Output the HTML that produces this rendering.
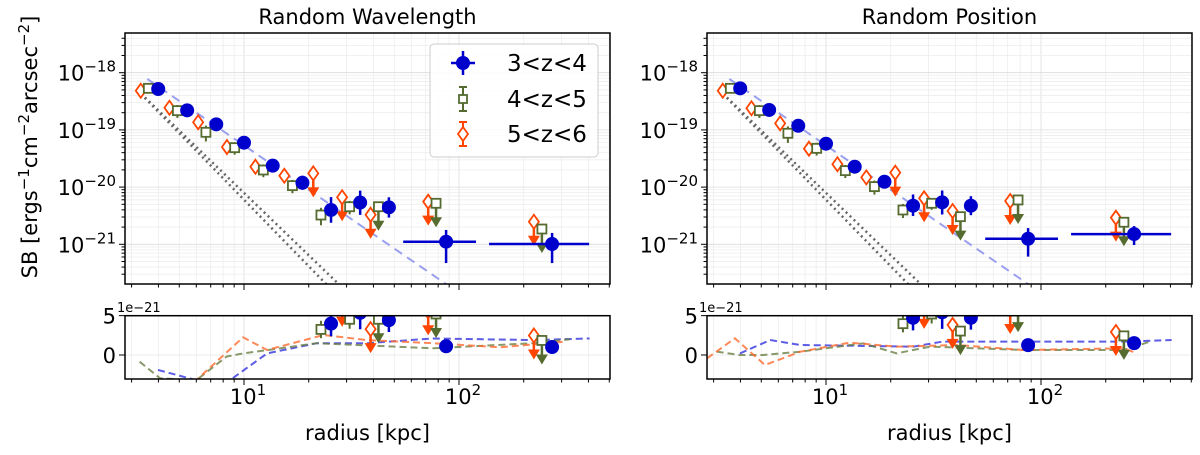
<!DOCTYPE html>
<html><head><meta charset="utf-8"><style>
body{margin:0;background:#fff;width:1200px;height:450px;overflow:hidden}
svg{font-family:"DejaVu Sans","Liberation Sans",sans-serif}
</style></head><body>
<svg id="fig" width="1200" height="450" xmlns="http://www.w3.org/2000/svg">
<defs>
<clipPath id="cm0"><rect x="125" y="33" width="485" height="251"/></clipPath>
<clipPath id="cb0"><rect x="125" y="315.7" width="485" height="63.3"/></clipPath>
<clipPath id="cm1"><rect x="707" y="33" width="485" height="251"/></clipPath>
<clipPath id="cb1"><rect x="707" y="315.7" width="485" height="63.3"/></clipPath>
</defs>
<text transform="translate(37,147) rotate(-90)" text-anchor="middle" font-size="21">SB [ergs<tspan dy="-8" font-size="15">−1</tspan><tspan dy="8">cm</tspan><tspan dy="-8" font-size="15">−2</tspan><tspan dy="8">arcsec</tspan><tspan dy="-8" font-size="15">−2</tspan><tspan dy="8">]</tspan></text>
</svg>
<script>
// ---- data (SB in units of 1e-21 erg/s/cm2/arcsec2) ----
const blueR=[3.99,5.44,7.43,10,13.6,18.7,25.4,34.7,47.2,87.1,271];
const blueXLo=[0,0,0,0,0,0,0,0,0,55,138];
const blueXHi=[0,0,0,0,0,0,0,0,0,120,403];
const blueWave=[519,220,125,59.7,23.7,11.9,3.98,5.37,4.43,1.11,1.01];
const bluePos=[533,223,118,57.4,22.7,12.4,4.73,5.42,4.73,1.25,1.51];
const blueErrLo=[15,8,5,3,1.2,2.9,1.6,2.1,1.5,0.64,0.54];
const blueErrHi=[15,8,5,3,1.2,3.9,2.7,3.3,2.2,0.67,0.57];
const greenR=[3.59,4.90,6.65,9.05,12.3,16.8,22.8,31.0];
const greenWave=[533,217,90.8,48.9,19.9,10.6,3.25,4.54];
const greenPos=[533,217,87.3,47.6,19.4,10.2,3.98,5.21];
const greenErr=[60,55,28,12,5,2.8,1.1,1.2];
const greenUlR=[42.2,78.2,243];
const greenUlWave=[4.54,5.21,1.85];
const greenUlPos=[3.04,5.96,2.43];
const redR=[3.31,4.50,6.12,8.33,11.3,15.4];
const redWave=[484,244,136,50.2,22.7,15.8];
const redPos=[484,239,130,46.9,25.1,14.8];
const redErr=[40,40,25,8,4,3.5];
const redUlR=[21.0,28.6,38.8,71.9,223];
const redUlWave=[17.4,6.64,3.29,5.56,2.48];
const redUlPos=[17.9,6.37,3.82,5.71,2.92];
// fit / model lines: [amplitude at r0, r0, slope]
const fitLine=[776,3.55,-2.58];
const modelLineA=[501,3.18,-3.86];
const modelLineB=[501,3.18,-3.62];
// residual (bottom) panel noise curves
const resWaveBlueR=[3.98,6.0,8.6,12.8,21.8,37.3,75.7,220,405];
const resWaveBlueV=[-1.9,-3.2,-3.2,0.2,1.5,1.5,2.1,1.9,2.1];
const resWaveGreenR=[3.27,4.07,6.0,8.3,9.9,21.8,75.7,220,328];
const resWaveGreenV=[-0.85,-2.96,-3.2,-0.2,0.2,1.5,0.85,1.5,2.0];
const resWaveOrangeR=[4.2,6.0,9.9,12.8,23.4,37.3,75.7,155,314];
const resWaveOrangeV=[-5,-3.2,2.25,0.64,2.54,1.9,1.5,0.98,1.7];
const resPosBlueR=[3.98,5.5,7.6,25.5,34.8,82.7,242,405];
const resPosBlueV=[0.2,1.9,1.27,1.06,1.7,1.7,1.7,1.9];
const resPosGreenR=[3.10,3.98,5.11,7.6,14.9,21.3,30.5,82.7,242,322];
const resPosGreenV=[0.42,0,0,0.42,1.48,0.21,1.06,0.64,0.64,1.7];
const resPosOrangeR=[2.80,3.77,5.2,7.6,12.9,21.3,40.5,82.7,242,280];
const resPosOrangeV=[-0.42,2.12,-1.27,0.42,1.57,1.06,1.27,0.64,0.85,0.21];
const xTicks=[10,100];
const xTickLabels=["1","2"];
const yTicksMain=[1000,100,10,1];
const yTickMainLabels=["−18","−19","−20","−21"];
const yTicksRes=[5,0];

const NS="http://www.w3.org/2000/svg";
const svg=document.getElementById('fig');
const BLUE="#0000cd",GREEN="#556b2f",RED="#ff4500";
function mk(tag,attrs,parent){const e=document.createElementNS(NS,tag);for(const k in attrs)e.setAttribute(k,attrs[k]);(parent||svg).appendChild(e);return e;}
function panel(idx,ox,title,bV,gV,gUl,rV,rUl,res){
  const X=r=>ox+119+(Math.log10(r)-1)*215;
  const YM=v=>72.7+(3-Math.log10(v))*57.2;
  const YB=v=>355-v*7.87;
  const L=ox,R=ox+485,T=33,B=284,BT=315.7,BB=379;
  const g=mk('g',{});
  
  
  const t=mk('text',{x:(L+R)/2,y:24,'text-anchor':'middle','font-size':21},g);t.textContent=title;
  
  const grid=mk('g',{stroke:'#e8e8e8','stroke-width':0.8},g);
  
  for(let d=0;d<=2;d++)for(let m=1;m<10;m++){const r=m*Math.pow(10,d);const x=X(r);if(x<L||x>R)continue;
    mk('line',{x1:x,x2:x,y1:T,y2:B,stroke:m==1?'#dcdcdc':'#ededed'},grid);
    mk('line',{x1:x,x2:x,y1:BT,y2:BB,stroke:m==1?'#dcdcdc':'#ededed'},grid);
    mk('line',{x1:x,x2:x,y1:B,y2:B+(m==1?6:3.5),stroke:'#000'},g);
    mk('line',{x1:x,x2:x,y1:BB,y2:BB+(m==1?6:3.5),stroke:'#000'},g);}
  for(let d=-2;d<=4;d++)for(let m=1;m<10;m++){const v=m*Math.pow(10,d);const y=YM(v);if(y<T||y>B)continue;
    mk('line',{x1:L,x2:R,y1:y,y2:y,stroke:m==1?'#dcdcdc':'#ededed'},grid);
    mk('line',{x1:L,x2:L-(m==1?6:3.5),y1:y,y2:y,stroke:'#000'},g);}
  yTicksRes.forEach(v=>{mk('line',{x1:L,x2:R,y1:YB(v),y2:YB(v),stroke:'#e4e4e4'},grid);mk('line',{x1:L,x2:L-6,y1:YB(v),y2:YB(v),stroke:'#000'},g);
    const tl=mk('text',{x:L-9,y:YB(v)+8,'text-anchor':'end','font-size':21},g);tl.textContent=v;
    });
  yTicksMain.forEach((v,i)=>{const tl=mk('text',{x:L-9,y:YM(v)+8,'text-anchor':'end','font-size':21},g);
    tl.innerHTML='10<tspan dy="-9" font-size="15">'+yTickMainLabels[i]+'</tspan>';
    });
  xTicks.forEach((v,i)=>{const tl=mk('text',{x:X(v)+4,y:404,'text-anchor':'middle','font-size':21},g);
    tl.innerHTML='10<tspan dy="-9" font-size="15">'+xTickLabels[i]+'</tspan>';
    });
  const xl=mk('text',{x:(L+R)/2,y:440,'text-anchor':'middle','font-size':21},g);xl.textContent='radius [kpc]';
  
  const oe=mk('text',{x:L-8,y:312,'font-size':13},g);oe.textContent='1e−21';
  
  function series(Y,clip,bottom){
    const sg=mk('g',{'clip-path':'url(#'+clip+')'},g);
    
    if(!bottom){
      [[fitLine,'#9aa0ee','9,6',2],[modelLineA,'#666','2,3.5',2.5],[modelLineB,'#666','2,3.5',2.5]].forEach(([p,c,da,w],k)=>{
        const f=r=>p[0]*Math.pow(r/p[1],p[2]);
        const r0=k==0?3.55:3.18, re=k==0?90:30;
        const ln=mk('line',{x1:X(r0),y1:Y(f(r0)),x2:X(re),y2:Y(f(re)),stroke:c,'stroke-width':w,'stroke-dasharray':da},sg);
        });
    } else {
      res.forEach(([rs,vs,c])=>{const pl=mk('polyline',{points:rs.map((r,i)=>X(r)+','+Y(vs[i])).join(' '),fill:'none',stroke:c,'stroke-width':2,'stroke-dasharray':'7,4',opacity:0.8},sg);
        });
    }
    const ul=(r,v,c,sh)=>{const x=X(r),y=Y(v);
      mk('line',{x1:x,x2:x,y1:y,y2:y+20,stroke:c,'stroke-width':2.5},sg);
      mk('path',{d:`M${x-6},${y+14}L${x+6},${y+14}L${x},${y+24}Z`,fill:c},sg);
      const m=sh=='s'?mk('rect',{x:x-4.5,y:y-4.5,width:9,height:9,fill:'#fff',stroke:c,'stroke-width':1.8},sg):mk('path',{d:`M${x},${y-7}L${x+5},${y}L${x},${y+7}L${x-5},${y}Z`,fill:'#fff',stroke:c,'stroke-width':1.8},sg);
      };
    redR.forEach((r,i)=>{const x=X(r);const v=rV[i];mk('line',{x1:x,x2:x,y1:Y(v+redErr[i]),y2:Y(Math.max(v-redErr[i],0.01)),stroke:RED,'stroke-width':2},sg);
      const m=mk('path',{d:`M${x},${Y(v)-7}L${x+5},${Y(v)}L${x},${Y(v)+7}L${x-5},${Y(v)}Z`,fill:'#fff',stroke:RED,'stroke-width':1.8},sg);
      });
    redUlR.forEach((r,i)=>ul(r,rUl[i],RED,'d'));
    greenR.forEach((r,i)=>{const x=X(r);const v=gV[i];mk('line',{x1:x,x2:x,y1:Y(v+greenErr[i]),y2:Y(Math.max(v-greenErr[i],0.01)),stroke:GREEN,'stroke-width':2},sg);
      const m=mk('rect',{x:x-4.5,y:Y(v)-4.5,width:9,height:9,fill:'#fff',stroke:GREEN,'stroke-width':1.8},sg);
      });
    greenUlR.forEach((r,i)=>ul(r,gUl[i],GREEN,'s'));
    blueR.forEach((r,i)=>{const x=X(r);const v=bV[i];
      mk('line',{x1:x,x2:x,y1:Y(v+blueErrHi[i]),y2:Y(Math.max(v-blueErrLo[i],0.01)),stroke:BLUE,'stroke-width':2.5},sg);
      if(blueXLo[i]&&!bottom)mk('line',{x1:X(blueXLo[i]),x2:X(blueXHi[i]),y1:Y(v),y2:Y(v),stroke:BLUE,'stroke-width':2.5},sg);
      const m=mk('circle',{cx:x,cy:Y(v),r:7,fill:BLUE},sg);
      });
  }
  series(YM,'cm'+idx,false);
  series(YB,'cb'+idx,true);
  const f1=mk('rect',{x:L,y:T,width:485,height:B-T,fill:'none',stroke:'#000','stroke-width':1.5},g);
  
  const f2=mk('rect',{x:L,y:BT,width:485,height:BB-BT,fill:'none',stroke:'#000','stroke-width':1.5},g);
  
  return g;
}
panel(0,125,'Random Wavelength',blueWave,greenWave,greenUlWave,redWave,redUlWave,
  [[resWaveBlueR,resWaveBlueV,'#3333dd'],[resWaveGreenR,resWaveGreenV,'#6b7f45'],[resWaveOrangeR,resWaveOrangeV,'#ff6a30']]);
panel(1,707,'Random Position',bluePos,greenPos,greenUlPos,redPos,redUlPos,
  [[resPosBlueR,resPosBlueV,'#3333dd'],[resPosGreenR,resPosGreenV,'#6b7f45'],[resPosOrangeR,resPosOrangeV,'#ff6a30']]);
const lg=mk('g',{});


mk('rect',{x:430,y:44,width:168,height:113,rx:4,fill:'#fff','fill-opacity':0.85,stroke:'#ccc'},lg);
[['3<z<4',BLUE,'c',63],['4<z<5',GREEN,'s',99],['5<z<6',RED,'d',134]].forEach(([lab,c,sh,y])=>{
  const x=463;const e=mk('g',{},lg);
  
  
  if(sh=='c'){mk('line',{x1:x-12,x2:x+12,y1:y,y2:y,stroke:c,'stroke-width':2.5},e);mk('line',{x1:x,x2:x,y1:y-12,y2:y+12,stroke:c,'stroke-width':2.5},e);mk('circle',{cx:x,cy:y,r:7,fill:c},e);}
  else{mk('line',{x1:x,x2:x,y1:y-12,y2:y+12,stroke:c,'stroke-width':2},e);mk('line',{x1:x-4,x2:x+4,y1:y-12,y2:y-12,stroke:c,'stroke-width':2},e);mk('line',{x1:x-4,x2:x+4,y1:y+12,y2:y+12,stroke:c,'stroke-width':2},e);
    if(sh=='s')mk('rect',{x:x-4,y:y-4,width:8,height:8,fill:'#fff',stroke:c,'stroke-width':1.8},e);
    else mk('path',{d:`M${x},${y-7}L${x+5},${y}L${x},${y+7}L${x-5},${y}Z`,fill:'#fff',stroke:c,'stroke-width':1.8},e);}
  const t=mk('text',{x:507,y:y+8,'font-size':23},e);t.textContent=lab;});
</script>
</body></html>
